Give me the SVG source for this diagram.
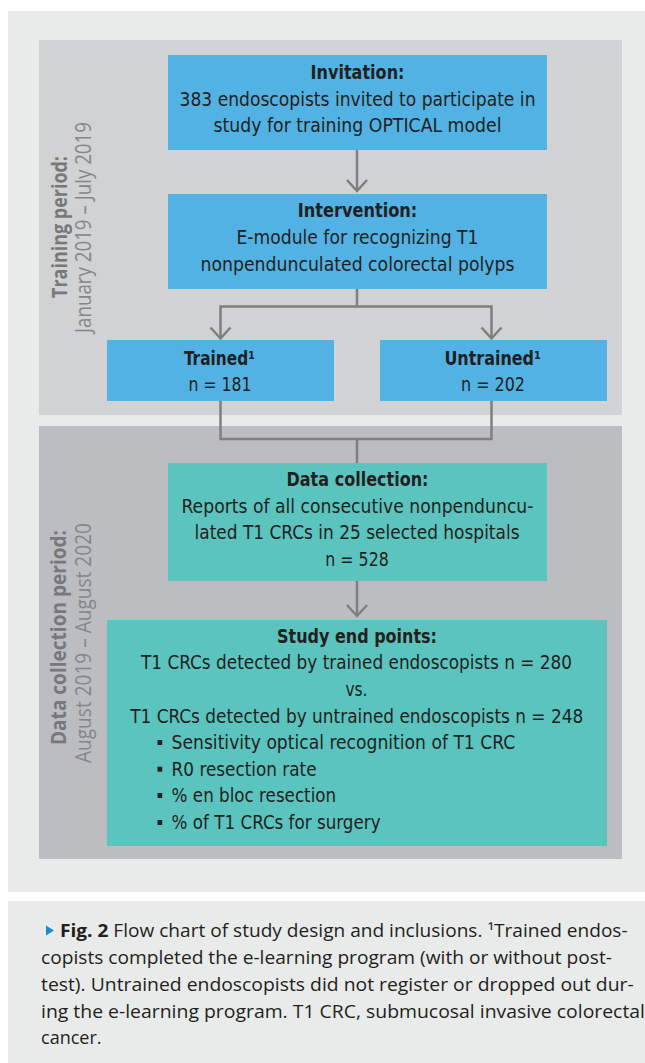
<svg xmlns="http://www.w3.org/2000/svg" width="645" height="1063" viewBox="0 0 645 1063">
<defs>
<style>
.bg{fill:#e9ebea}
.p1{fill:#d1d2d4}
.p2{fill:#bcbdc1}
.blue{fill:#52b2e4}
.teal{fill:#5bc4bf}
.t{font-family:"Liberation Sans Narrow","DejaVu Sans Condensed","Liberation Sans",sans-serif;font-size:19px;fill:#231f20}
.b{font-weight:bold}
.lbl{font-family:"Open Sans","Noto Sans","DejaVu Sans",sans-serif;font-size:21px;fill:#77787a;text-anchor:middle}
.lt{font-weight:normal;fill:#85868a}
.cap{font-family:"Open Sans","Noto Sans","Liberation Sans",sans-serif;font-size:18px;fill:#231f20}
.ln{fill:none;stroke:#7f7f7f;stroke-width:2.5}
.bul{fill:#231f20}
</style>
<marker id="arr" markerUnits="userSpaceOnUse" viewBox="-2 -2 16 24" markerWidth="16" markerHeight="24" refX="11" refY="10" orient="auto" overflow="visible">
<path d="M0,0 L11,10 L0,20" fill="none" stroke="#7f7f7f" stroke-width="2.5"/>
</marker>
</defs>

<rect class="bg" x="8" y="11" width="637" height="881"/>
<rect class="bg" x="8" y="901" width="637" height="162"/>

<g id="panel-training">
<rect class="p1" x="39" y="40" width="583" height="375"/>
<text class="lbl b" transform="translate(67,227) rotate(-90)" textLength="142" lengthAdjust="spacingAndGlyphs">Training period:</text>
<text class="lbl lt" transform="translate(91,227.5) rotate(-90)" textLength="211" lengthAdjust="spacingAndGlyphs">January 2019 – July 2019</text>
</g>

<g id="panel-data">
<rect class="p2" x="39" y="426" width="583" height="433"/>
<text class="lbl b" transform="translate(66,637.5) rotate(-90)" textLength="215" lengthAdjust="spacingAndGlyphs">Data collection period:</text>
<text class="lbl lt" transform="translate(91,643) rotate(-90)" textLength="240" lengthAdjust="spacingAndGlyphs">August 2019 – August 2020</text>
</g>

<g id="connectors">
<path class="ln" d="M357,150 V191" marker-end="url(#arr)"/>
<path class="ln" d="M357,289 V306.5"/>
<path class="ln" d="M357,306.5 H220.5 V338.5" marker-end="url(#arr)"/>
<path class="ln" d="M357,306.5 H491.5 V338.5" marker-end="url(#arr)"/>
<path class="ln" d="M220.5,401 V439 H491.5 V401"/>
<path class="ln" d="M357,439 V463"/>
<path class="ln" d="M357,581 V616" marker-end="url(#arr)"/>
</g>

<g id="node-invitation">
<rect class="blue" x="168" y="55" width="379" height="95"/>
<text class="t b" x="357.5" y="79" text-anchor="middle" textLength="94" lengthAdjust="spacingAndGlyphs">Invitation:</text>
<text class="t" x="357.5" y="106" text-anchor="middle" textLength="356" lengthAdjust="spacingAndGlyphs">383 endoscopists invited to participate in</text>
<text class="t" x="357.5" y="132" text-anchor="middle" textLength="288" lengthAdjust="spacingAndGlyphs">study for training OPTICAL model</text>
</g>

<g id="node-intervention">
<rect class="blue" x="168" y="194" width="379" height="95"/>
<text class="t b" x="357.5" y="217" text-anchor="middle" textLength="119.5" lengthAdjust="spacingAndGlyphs">Intervention:</text>
<text class="t" x="357.5" y="244" text-anchor="middle" textLength="242" lengthAdjust="spacingAndGlyphs">E-module for recognizing T1</text>
<text class="t" x="357.5" y="270.5" text-anchor="middle" textLength="314" lengthAdjust="spacingAndGlyphs">nonpenduncul­ated colorectal polyps</text>
</g>

<g id="node-trained">
<rect class="blue" x="107" y="340" width="227" height="61"/>
<text class="t b" x="184" y="365" textLength="71" lengthAdjust="spacingAndGlyphs">Trained¹</text>
<text class="t" x="220" y="391" text-anchor="middle" textLength="63" lengthAdjust="spacingAndGlyphs">n = 181</text>
</g>

<g id="node-untrained">
<rect class="blue" x="380" y="340" width="227" height="61"/>
<text class="t b" x="444.4" y="365" textLength="96.6" lengthAdjust="spacingAndGlyphs">Untrained¹</text>
<text class="t" x="493" y="391" text-anchor="middle" textLength="64" lengthAdjust="spacingAndGlyphs">n = 202</text>
</g>

<g id="node-data-collection">
<rect class="teal" x="168" y="463" width="379" height="118"/>
<text class="t b" x="357.5" y="485.7" text-anchor="middle" textLength="142" lengthAdjust="spacingAndGlyphs">Data collection:</text>
<text class="t" x="357.5" y="512.7" text-anchor="middle" textLength="352" lengthAdjust="spacingAndGlyphs">Reports of all consecutive nonpenduncu-</text>
<text class="t" x="357" y="539" text-anchor="middle" textLength="325" lengthAdjust="spacingAndGlyphs">lated T1 CRCs in 25 selected hospitals</text>
<text class="t" x="357" y="565.7" text-anchor="middle" textLength="63.5" lengthAdjust="spacingAndGlyphs">n = 528</text>
</g>

<g id="node-study-end-points">
<rect class="teal" x="107" y="620" width="500" height="226"/>
<text class="t b" x="357" y="642.7" text-anchor="middle" textLength="160" lengthAdjust="spacingAndGlyphs">Study end points:</text>
<text class="t" x="356.5" y="669" text-anchor="middle" textLength="431" lengthAdjust="spacingAndGlyphs">T1 CRCs detected by trained endoscopists n = 280</text>
<text class="t" x="356.5" y="695.7" text-anchor="middle" textLength="22" lengthAdjust="spacingAndGlyphs">vs.</text>
<text class="t" x="356.7" y="723" text-anchor="middle" textLength="453" lengthAdjust="spacingAndGlyphs">T1 CRCs detected by untrained endoscopists n = 248</text>
<rect class="bul" x="157.5" y="740" width="4.7" height="5"/>
<text class="t" x="171.6" y="749" textLength="343.6" lengthAdjust="spacingAndGlyphs">Sensitivity optical recognition of T1 CRC</text>
<rect class="bul" x="157.5" y="766.7" width="4.7" height="5"/>
<text class="t" x="171.6" y="775.7" textLength="145" lengthAdjust="spacingAndGlyphs">R0 resection rate</text>
<rect class="bul" x="157.5" y="793" width="4.7" height="5"/>
<text class="t" x="171.6" y="802" textLength="164.6" lengthAdjust="spacingAndGlyphs">% en bloc resection</text>
<rect class="bul" x="157.5" y="820" width="4.7" height="5"/>
<text class="t" x="171.6" y="829" textLength="209" lengthAdjust="spacingAndGlyphs">% of T1 CRCs for surgery</text>
</g>

<g id="caption">
<polygon points="46,925.5 54,930.5 46,935.5" fill="#1a8ccc"/>
<text class="cap" x="60" y="937" textLength="567.6" lengthAdjust="spacingAndGlyphs"><tspan font-weight="bold">Fig. 2</tspan> Flow chart of study design and inclusions. ¹Trained endos-</text>
<text class="cap" x="41" y="964" textLength="571" lengthAdjust="spacingAndGlyphs">copists completed the e-learning program (with or without post-</text>
<text class="cap" x="41" y="991" textLength="592.7" lengthAdjust="spacingAndGlyphs">test). Untrained endoscopists did not register or dropped out dur-</text>
<text class="cap" x="41" y="1017.5" textLength="604" lengthAdjust="spacingAndGlyphs">ing the e-learning program. T1 CRC, submucosal invasive colorectal</text>
<text class="cap" x="41" y="1044" textLength="60.6" lengthAdjust="spacingAndGlyphs">cancer.</text>
</g>
</svg>
